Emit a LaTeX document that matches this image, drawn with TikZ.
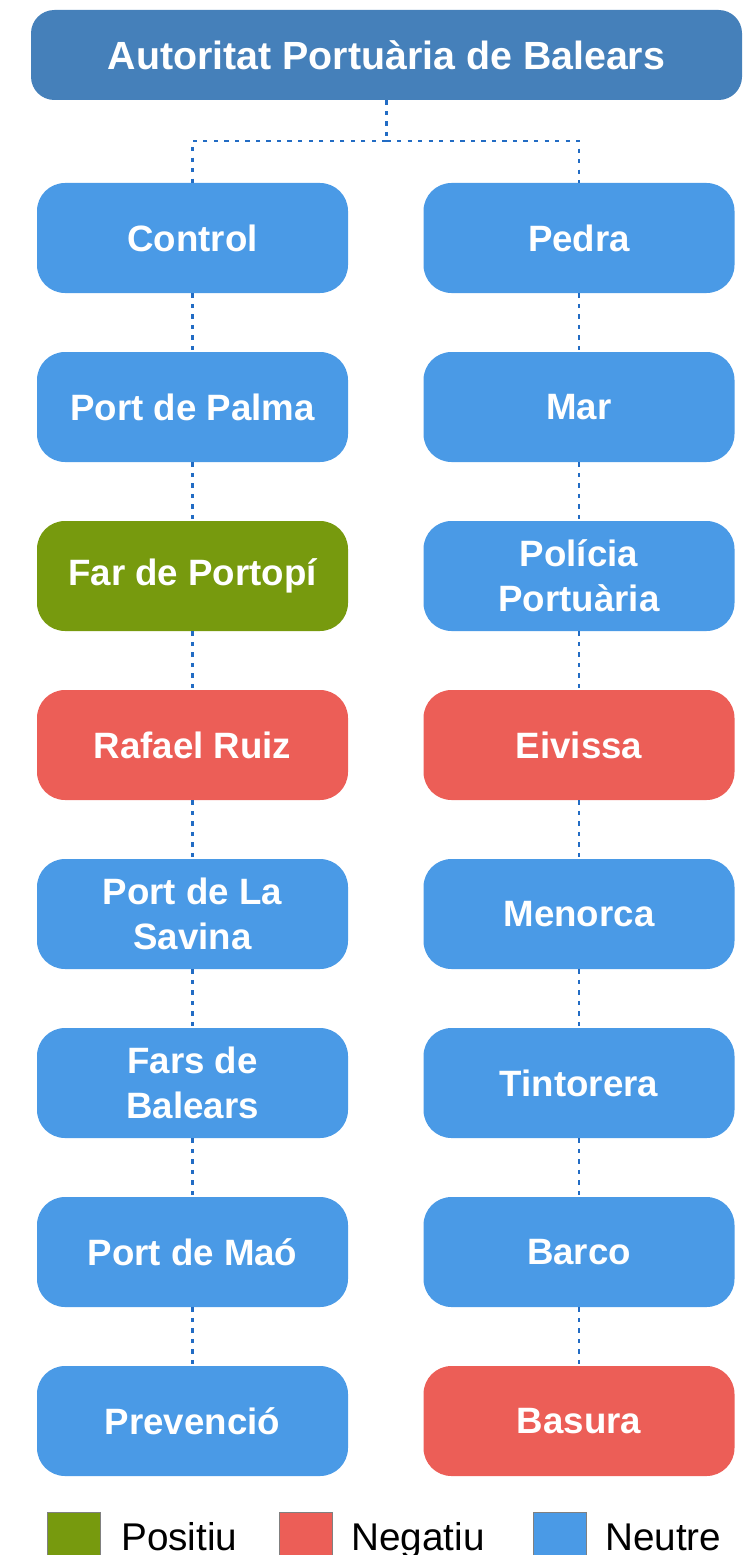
\documentclass[tikz,border=0pt]{standalone}
\usepackage{fontspec}
\setmainfont{Liberation Sans}
\usetikzlibrary{positioning}

\definecolor{topblue}{HTML}{4580BA}
\definecolor{neublue}{HTML}{4A9AE6}
\definecolor{posgreen}{HTML}{779A0E}
\definecolor{negred}{HTML}{EC5E57}
\definecolor{linkblue}{HTML}{226CC4}

\tikzset{
  box/.style={rounded corners=21pt, minimum width=233.25pt, minimum height=82.5pt,
    text=white, font=\fontsize{27.5}{33.5}\selectfont\bfseries, align=center, inner sep=0pt},
  neubox/.style={box, fill=neublue},
  posbox/.style={box, fill=posgreen},
  negbox/.style={box, fill=negred},
  link/.style={draw=linkblue, line width=2.1pt, dash pattern=on 3.2pt off 4.7pt},
  key/.style={draw=gray, line width=0.6pt, minimum size=39.75pt, inner sep=0pt},
  keytext/.style={anchor=base west, inner sep=0pt, font=\fontsize{29}{34}\selectfont}
}

\begin{document}
\begin{tikzpicture}[x=0.75pt, y=-0.75pt]
    \clip (0,0) rectangle (747,1555);

    %Head
    \node[box, fill=topblue, rounded corners=17.5pt, minimum width=533.25pt, minimum height=67.5pt,
      font=\fontsize{29.5}{35}\selectfont\bfseries] (apb) at (386.5,55) {Autoritat Portuària de Balears};
    \coordinate (split) at (386.5,141);

    %Left column
    \node[neubox] (control) at (192.5,238) {Control};
    \node[neubox] (palma)   at (192.5,407) {Port de Palma};
    \node[posbox] (portopi) at (192.5,576) {Far de Portopí};
    \node[negbox] (ruiz)    at (192.5,745) {Rafael Ruiz};
    \node[neubox] (savina)  at (192.5,914) {Port de La\\Savina};
    \node[neubox] (fars)    at (192.5,1083) {Fars de\\Balears};
    \node[neubox] (mao)     at (192.5,1252) {Port de Maó};
    \node[neubox] (prev)    at (192.5,1421) {Prevenció};

    %Right column
    \node[neubox] (pedra)   at (579,238) {Pedra};
    \node[neubox] (mar)     at (579,407) {Mar};
    \node[neubox] (policia) at (579,576) {Polícia\\Portuària};
    \node[negbox] (eivissa) at (579,745) {Eivissa};
    \node[neubox] (menorca) at (579,914) {Menorca};
    \node[neubox] (tint)    at (579,1083) {Tintorera};
    \node[neubox] (barco)   at (579,1252) {Barco};
    \node[negbox] (basura)  at (579,1421) {Basura};

    %Connectors
    \draw[link] (apb.south) -- (split);
    \draw[link] (split) -| (control.north);
    \draw[link] (split) -| (pedra.north);

    \draw[link] (control.south) -- (palma.north);
    \draw[link] (palma.south) -- (portopi.north);
    \draw[link] (portopi.south) -- (ruiz.north);
    \draw[link] (ruiz.south) -- (savina.north);
    \draw[link] (savina.south) -- (fars.north);
    \draw[link] (fars.south) -- (mao.north);
    \draw[link] (mao.south) -- (prev.north);

    \draw[link] (pedra.south) -- (mar.north);
    \draw[link] (mar.south) -- (policia.north);
    \draw[link] (policia.south) -- (eivissa.north);
    \draw[link] (eivissa.south) -- (menorca.north);
    \draw[link] (menorca.south) -- (tint.north);
    \draw[link] (tint.south) -- (barco.north);
    \draw[link] (barco.south) -- (basura.north);

    %Legend
    \node[key, fill=posgreen] (kpos) at (73.5,1538.5) {};
    \node[keytext] (tpos) at (121,1550) {Positiu};
    \node[key, fill=negred] (kneg) at (305.5,1538.5) {};
    \node[keytext] (tneg) at (351,1550) {Negatiu};
    \node[key, fill=neublue] (kneu) at (559.5,1538.5) {};
    \node[keytext] (tneu) at (605,1550) {Neutre};
\end{tikzpicture}
\end{document}
